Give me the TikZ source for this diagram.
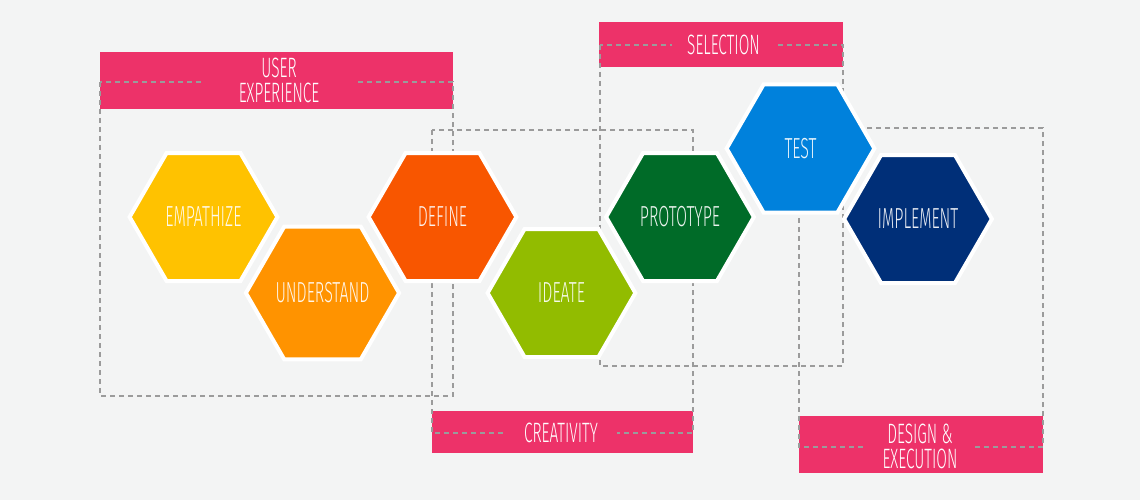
\documentclass[tikz,border=0pt]{standalone}
\usepackage{fontspec}
\setmainfont{Fira Sans}[UprightFont={* Light},FakeStretch=0.55]
\usetikzlibrary{shapes.geometric}
\definecolor{bg}{HTML}{F3F4F4}
\definecolor{pinkl}{HTML}{ED3269}
\definecolor{dashgray}{HTML}{9B9B9B}
\definecolor{cEmp}{HTML}{FFC200}
\definecolor{cUnd}{HTML}{FF9300}
\definecolor{cDef}{HTML}{F85600}
\definecolor{cIde}{HTML}{92BC00}
\definecolor{cPro}{HTML}{006B28}
\definecolor{cTes}{HTML}{0081DC}
\definecolor{cImp}{HTML}{002F78}
\tikzset{
  hexa/.style={regular polygon, regular polygon sides=6, minimum size=147.8pt,
    inner sep=0pt, draw=white, line width=4pt, fill=#1,
    text=white!92!#1, font=\fontsize{29}{24}\selectfont},
  dbox/.style={draw=dashgray, line width=1.2pt, dash pattern=on 5pt off 4pt},
  labelbar/.style={fill=pinkl},
  labeltext/.style={fill=pinkl, text=white, inner xsep=0pt, inner ysep=1pt,
    align=center, font=\fontsize{28}{25}\selectfont}
}
\begin{document}
\begin{tikzpicture}[x=1pt,y=-1pt]
\fill[bg] (0,0) rectangle (1140,500);
\useasboundingbox (0,0) rectangle (1140,500);
% pink label bars
\fill[labelbar] (100,52) rectangle (453,109);
\fill[labelbar] (599,22) rectangle (843,67.5);
\fill[labelbar] (432,411) rectangle (693,453);
\fill[labelbar] (799,416) rectangle (1043,473);
% dashed group boxes
\draw[dbox] (100,82) rectangle (453,396);
\draw[dbox] (432,130) rectangle (693,433);
\draw[dbox] (600,45) rectangle (843,366);
\draw[dbox] (799,128) rectangle (1043,447);
% label texts
\node[labeltext, minimum width=152pt] (ux) at (279,80.5) {USER\\EXPERIENCE};
\node[labeltext, minimum width=103pt] (sel) at (723.5,44.5) {SELECTION};
\node[labeltext, minimum width=112pt] (cre) at (561,433) {CREATIVITY};
\node[labeltext, minimum width=106pt] (des) at (920,446) {DESIGN \&\\EXECUTION};
% hexagons
\node[hexa=cEmp] (emp) at (203.5,217) {EMPATHIZE};
\node[hexa=cUnd] (und) at (322.5,293) {UNDERSTAND};
\node[hexa=cDef] (def) at (442.5,217) {DEFINE};
\node[hexa=cIde] (ide) at (561.5,293) {IDEATE};
\node[hexa=cPro] (pro) at (680,217) {PROTOTYPE};
\node[hexa=cImp] (imp) at (918,219) {IMPLEMENT};
\node[hexa=cTes] (tes) at (800.5,148.5) {TEST};
\end{tikzpicture}
\end{document}
